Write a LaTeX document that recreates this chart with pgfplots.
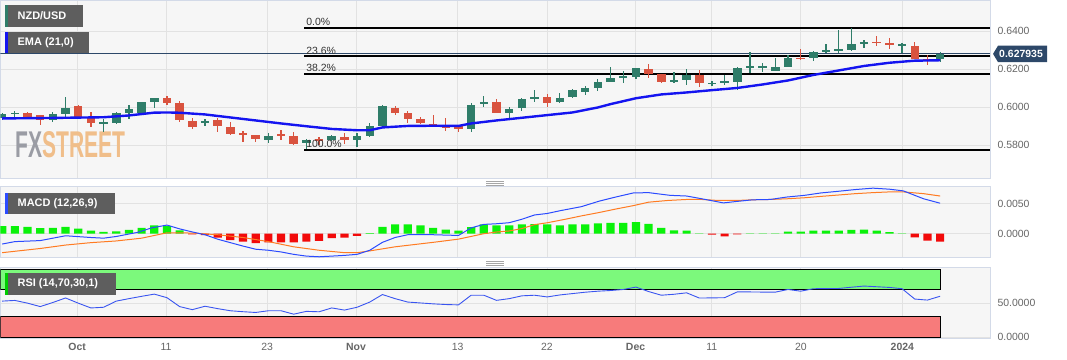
\documentclass[border=0pt]{standalone}
\usepackage{fontspec}
\setmainfont{Liberation Sans}
\usepackage{graphicx}
\usepackage{pgfplots}
\usepackage{pgfplotstable}
\pgfplotsset{compat=1.18}

\definecolor{cgreen}{HTML}{2F7D69}
\definecolor{cred}{HTML}{D9533F}
\definecolor{panelbg}{HTML}{F6F6F6}
\definecolor{gridc}{HTML}{E2E2E2}
\definecolor{borderc}{HTML}{D3DAE8}
\definecolor{emac}{HTML}{1414F0}
\definecolor{navy}{HTML}{2D4869}
\definecolor{boxc}{HTML}{5E5E5E}
\definecolor{labc}{HTML}{666666}
\definecolor{hgreen}{HTML}{0AF20A}
\definecolor{hred}{HTML}{F20A0A}
\definecolor{macdc}{HTML}{2B4BFF}
\definecolor{sigc}{HTML}{FF7B22}
\definecolor{rsic}{HTML}{3A55F0}
\definecolor{obgreen}{HTML}{7CF97C}
\definecolor{osred}{HTML}{F77B7B}
\definecolor{wmgray}{HTML}{9A9CA4}
\definecolor{wmorange}{HTML}{F0BE8A}
\definecolor{fibtxt}{HTML}{333333}

\pgfplotsset{
 panel/.style={
  scale only axis, width=990bp, xmin=-0.134, xmax=77.94,
  axis background/.style={fill=panelbg},
  axis line style={draw=borderc, line width=1bp},
  xmajorgrids, ymajorgrids,
  grid style={draw=gridc, line width=0.8bp},
  major tick length=0pt,
  scaled y ticks=false, scaled x ticks=false,
  xtick={5.91,12.93,20.9,27.92,35.93,42.98,49.97,55.99,63.01,71.02},
  xticklabel=\empty,
  yticklabel pos=right,
  yticklabel style={anchor=west, xshift=4bp, text=labc, font=\fontsize{10.5}{12}\selectfont},
 },
 candlewick/.style={draw=none, mark=none, forget plot, error bars/.cd, y dir=both, y explicit, error mark=none, error bar style={draw=#1, line width=1.2bp}},
 candlebody/.style={draw=none, mark=none, forget plot, error bars/.cd, y dir=both, y explicit, error mark=none, error bar style={draw=#1, line width=8.5bp}},
}

% green candles: index, open, high, low, close
\pgfplotstableread{
k o h l c
0 0.59422 0.59685 0.59316 0.59606
1 0.59653 0.59790 0.59490 0.59669
4 0.59290 0.59722 0.59195 0.59632
5 0.59632 0.60511 0.59353 0.59932
8 0.59159 0.59353 0.58701 0.59174
9 0.59174 0.59722 0.59106 0.59669
10 0.59701 0.60106 0.59353 0.59880
11 0.59701 0.60280 0.59669 0.60248
12 0.60248 0.60474 0.59932 0.60459
16 0.59211 0.59353 0.59001 0.59227
21 0.58264 0.58617 0.58090 0.58474
24 0.58090 0.58290 0.57780 0.58264
26 0.58264 0.58527 0.58211 0.58448
28 0.58264 0.58617 0.57911 0.58490
29 0.58448 0.59174 0.58406 0.59001
30 0.59001 0.60106 0.58964 0.60037
37 0.58843 0.60185 0.58659 0.60122
38 0.60143 0.60553 0.59985 0.60248
40 0.59690 0.60001 0.59358 0.59895
41 0.59932 0.60459 0.59806 0.60411
42 0.60416 0.60869 0.60280 0.60527
44 0.60237 0.60711 0.60195 0.60474
45 0.60501 0.60932 0.60459 0.60869
46 0.60764 0.61106 0.60632 0.61016
47 0.61016 0.61464 0.60827 0.61316
48 0.61332 0.62090 0.61290 0.61527
49 0.61569 0.61895 0.61248 0.61585
50 0.61595 0.62064 0.61464 0.62037
53 0.61301 0.61858 0.61248 0.61411
54 0.61422 0.61985 0.61159 0.61706
56 0.61237 0.61369 0.61106 0.61253
57 0.61306 0.61685 0.61132 0.61322
58 0.61332 0.62122 0.60895 0.62069
59 0.62111 0.62879 0.61774 0.62127
60 0.62111 0.62332 0.61858 0.62127
61 0.61911 0.62564 0.61895 0.62090
62 0.62122 0.62737 0.62090 0.62595
64 0.62564 0.62964 0.62422 0.62911
65 0.62948 0.63306 0.62827 0.62964
66 0.62985 0.64037 0.62827 0.63001
67 0.63001 0.64140 0.62937 0.63316
68 0.63353 0.63543 0.63132 0.63432
71 0.63248 0.63395 0.62827 0.63264
74 0.62500 0.62869 0.62369 0.627935
}\gtab

% red candles
\pgfplotstableread{
k o h l c
2 0.59669 0.59711 0.59369 0.59422
3 0.59553 0.59580 0.59053 0.59290
6 0.60053 0.60080 0.59448 0.59490
7 0.59406 0.59753 0.58964 0.59143
13 0.60459 0.60580 0.60106 0.60227
14 0.60195 0.60332 0.59227 0.59316
15 0.59280 0.59406 0.58827 0.58932
17 0.59316 0.59406 0.58701 0.59001
18 0.58964 0.59227 0.58527 0.58580
19 0.58590 0.58753 0.58175 0.58569
20 0.58527 0.58543 0.58175 0.58317
22 0.58538 0.58790 0.58264 0.58517
23 0.58474 0.58701 0.58001 0.58053
25 0.58317 0.58406 0.58001 0.58237
27 0.58438 0.58617 0.58053 0.58264
31 0.59964 0.60053 0.59580 0.59669
32 0.59669 0.59790 0.59143 0.59385
33 0.59369 0.59459 0.59080 0.59132
34 0.59106 0.59580 0.58975 0.59027
35 0.58975 0.59406 0.58753 0.58953
36 0.59001 0.59053 0.58701 0.58843
39 0.60248 0.60406 0.59669 0.59685
43 0.60511 0.60658 0.59985 0.60227
51 0.61985 0.62264 0.61511 0.61711
52 0.61711 0.61737 0.61264 0.61301
55 0.61685 0.61948 0.61053 0.61248
63 0.62574 0.63037 0.62474 0.62553
69 0.63411 0.63722 0.63237 0.63390
70 0.63316 0.63616 0.63037 0.63295
72 0.63227 0.63406 0.62511 0.62543
73 0.62521 0.62727 0.62211 0.62500
}\rtab

% EMA(21)
\pgfplotstableread{
k v
0 0.59396
4 0.59422
8 0.59459
10 0.59553
12 0.59701
13 0.59711
14 0.59696
16 0.59606
18 0.59448
20 0.59290
22 0.59132
24 0.58985
26 0.58843
28 0.58774
29 0.58774
30 0.58922
32 0.59001
34 0.59011
36 0.59001
37 0.59132
39 0.59290
42 0.59501
45 0.59711
47 0.59974
48 0.60150
50 0.60459
52 0.60659
54 0.60764
56 0.60885
58 0.61001
60 0.61185
62 0.61395
64 0.61685
66 0.61922
68 0.62158
70 0.62327
72 0.62437
74 0.62458
}\ematab

% MACD histogram
\pgfplotstableread{
k v
0 0.00125
1 0.00125
2 0.00114
3 0.00091
4 0.00097
5 0.00114
6 0.00086
7 0.00051
8 0.00029
9 0.00040
10 0.00063
11 0.00097
12 0.00137
13 0.00125
14 0.00057
29 0.00011
30 0.00114
31 0.00154
32 0.00154
33 0.00137
34 0.00097
35 0.00068
36 0.00051
37 0.00108
38 0.00154
39 0.00137
40 0.00137
41 0.00154
42 0.00160
43 0.00153
44 0.00136
45 0.00153
46 0.00153
47 0.00170
48 0.00181
49 0.00181
50 0.00193
51 0.00164
52 0.00096
53 0.00057
54 0.00051
55 0.00006
59 0.00006
60 0.00006
61 0.00006
62 0.00034
63 0.00034
64 0.00051
65 0.00051
66 0.00051
67 0.00062
68 0.00068
69 0.00051
70 0.00028
71 0.00006
}\hgtab

\pgfplotstableread{
k v
15 -0.00010
16 -0.00025
17 -0.00063
18 -0.00108
19 -0.00131
20 -0.00154
21 -0.00143
22 -0.00143
23 -0.00143
24 -0.00131
25 -0.00120
26 -0.00074
27 -0.00063
28 -0.00034
56 -0.00017
57 -0.00045
58 -0.00011
72 -0.00062
73 -0.00113
74 -0.00130
}\hrtab

% MACD line
\pgfplotstableread{
k v
0 -0.00171
1 -0.00131
3 -0.00114
5 -0.00034
7 -0.00063
8 -0.00074
9 -0.00046
10.7 0.00023
11.8 0.00097
13 0.00143
14 0.00080
15 0.00029
16 -0.00017
17 -0.00091
18 -0.00148
19 -0.00205
20 -0.00257
21 -0.00274
22 -0.00302
23 -0.00342
24 -0.00371
25 -0.00382
26 -0.00371
27 -0.00359
28 -0.00342
29 -0.00274
30 -0.00143
31 -0.00063
32 -0.00017
34 -0.00017
36 -0.00029
37 0.00097
38 0.00154
39 0.00165
40 0.00182
41 0.00239
42 0.00310
43 0.00335
44 0.00380
45.7 0.00448
47.1 0.00539
48.4 0.00607
49.8 0.00675
51 0.00680
52.7 0.00635
54 0.00624
55.2 0.00578
56.9 0.00510
57.9 0.00533
59.2 0.00561
60.6 0.00567
61.9 0.00607
63.3 0.00635
64.6 0.00675
66 0.00703
67.3 0.00731
68.7 0.00754
70 0.00737
71.1 0.00709
72.7 0.00578
74 0.00505
}\macdtab

% signal line
\pgfplotstableread{
k v
0 -0.00314
3 -0.00245
5 -0.00188
7 -0.00148
9 -0.00120
11 -0.00074
13 0.00015
15 0.00011
17 -0.00017
19 -0.00063
21 -0.00131
23 -0.00217
25 -0.00274
27 -0.00314
28 -0.00314
29 -0.00285
31 -0.00217
34 -0.00143
36 -0.00090
38 0.00000
39 0.00028
40 0.00045
41 0.00085
42 0.00150
43 0.00181
44.4 0.00238
45.7 0.00295
47.1 0.00351
48.4 0.00408
49.8 0.00465
51 0.00522
52.5 0.00550
54 0.00567
55.2 0.00567
56.5 0.00550
57.9 0.00550
59.2 0.00561
60.6 0.00567
61.9 0.00578
63.3 0.00595
64.6 0.00618
66 0.00641
67.3 0.00663
68.7 0.00680
70 0.00692
71.1 0.00692
72.7 0.00663
74 0.00624
}\sigtab

% RSI(14)
\pgfplotstableread{
k v
0 53
1 54
2 50
3 45
4 51
5 57.6
6 50
7 43
8 44
9 53
10 56.6
11 60
12 63.2
13 58
14 45
15 40.5
16 45.5
17 42
18 38.9
19 37.5
20 36.4
21 38.9
22 38.9
23 33.9
24 38
25 37.4
26 43
27 39.9
28 44
29 51.6
30 62.6
31 56.6
32 51.6
33 50.3
34 49
35 48
36 47.5
37 61.6
38 61.6
39 54.1
40 56.6
41 60.7
42 61.6
43 59.1
44 62
45 64
46 66
47 67.5
48 68.5
49 70
50 73.5
51 67
52 61.6
53 63
54 65.1
55 57.5
56 57.7
57 58
58 66.5
59 66.4
60 66.2
61 66.1
62 70
63 67.5
64 71.1
65 71.3
66 71.5
67 73.3
68 75
69 74
70 73
71 71.1
72 56
73 54.5
74 60.1
}\rsitab

\begin{document}
\begin{tikzpicture}
\fill[white] (0bp,0bp) rectangle (1067bp,-360bp);

% ---------------- main price panel ----------------
\begin{axis}[panel, at={(0bp,-1bp)}, anchor=north west, height=177.5bp,
  ymin=0.56238, ymax=0.65579,
  ytick={0.58,0.60,0.62,0.64},
  yticklabels={0.5800,0.6000,0.6200,0.6400}]
 \node[anchor=south west, inner sep=0pt] at (rel axis cs:0.0152,0.1155)
   {\resizebox{110bp}{26bp}{\bfseries\textcolor{wmgray}{FX}\textcolor{wmorange}{STREET}}};
 % Fibonacci levels
 \addplot[black, line width=2bp, forget plot] coordinates {(23.84,0.6417) (77.94,0.6417)};
 \addplot[black, line width=2bp, forget plot] coordinates {(23.84,0.62662) (77.94,0.62662)};
 \addplot[black, line width=2bp, forget plot] coordinates {(23.84,0.61729) (77.94,0.61729)};
 \addplot[black, line width=2bp, forget plot] coordinates {(23.84,0.5776) (77.94,0.5776)};
 % last price line
 \addplot[navy, line width=1bp, forget plot] coordinates {(-0.134,0.627935) (77.94,0.627935)};
 % candles
 \addplot[candlewick=cgreen] table[x=k, y expr={(\thisrow{h}+\thisrow{l})/2}, y error expr={(\thisrow{h}-\thisrow{l})/2}] {\gtab};
 \addplot[candlewick=cred] table[x=k, y expr={(\thisrow{h}+\thisrow{l})/2}, y error expr={(\thisrow{h}-\thisrow{l})/2}] {\rtab};
 \addplot[candlebody=cgreen] table[x=k, y expr={(\thisrow{o}+\thisrow{c})/2}, y error expr={max(abs(\thisrow{o}-\thisrow{c})/2,0.0004)}] {\gtab};
 \addplot[candlebody=cred] table[x=k, y expr={(\thisrow{o}+\thisrow{c})/2}, y error expr={max(abs(\thisrow{o}-\thisrow{c})/2,0.0004)}] {\rtab};
 % EMA
 \addplot[emac, line width=2.4bp] table[x=k, y=v] {\ematab};
 % fib labels
 \node[anchor=south west, inner sep=1bp, yshift=1bp, text=fibtxt, font=\fontsize{10.5}{12}\selectfont] at (axis cs:23.9,0.6417) {0.0\%};
 \node[anchor=south west, inner sep=1bp, yshift=1bp, text=fibtxt, font=\fontsize{10.5}{12}\selectfont] at (axis cs:23.9,0.62662) {23.6\%};
 \node[anchor=south west, inner sep=1bp, yshift=1bp, text=fibtxt, font=\fontsize{10.5}{12}\selectfont] at (axis cs:23.9,0.61729) {38.2\%};
 \node[anchor=south west, inner sep=1bp, yshift=1bp, text=fibtxt, font=\fontsize{10.5}{12}\selectfont] at (axis cs:23.9,0.5776) {100.0\%};
 \coordinate (cp) at (axis cs:77.94,0.627935);
\end{axis}

% last price tag
\fill[navy] ([xshift=3bp]cp) -- ([xshift=8bp,yshift=8.3bp]cp) -- ([xshift=57bp,yshift=8.3bp]cp) -- ([xshift=57bp,yshift=-8.3bp]cp) -- ([xshift=8bp,yshift=-8.3bp]cp) -- cycle;
\node[anchor=west, inner sep=0pt, text=white, font=\bfseries\fontsize{10.5}{12}\selectfont] at ([xshift=9bp]cp) {0.627935};

% ---------------- MACD panel ----------------
\begin{axis}[panel, at={(0bp,-186.8bp)}, anchor=north west, height=71.3bp,
  ymin=-0.00402, ymax=0.00778,
  ytick={0,0.005}, yticklabels={0.0000,0.0050}]
 \addplot[ybar, bar width=8.2bp, bar shift=0pt, fill=hgreen, draw=none, forget plot] table[x=k, y=v] {\hgtab};
 \addplot[ybar, bar width=8.2bp, bar shift=0pt, fill=hred, draw=none, forget plot] table[x=k, y=v] {\hrtab};
 \addplot[sigc, line width=1bp] table[x=k, y=v] {\sigtab};
 \addplot[macdc, line width=1bp] table[x=k, y=v] {\macdtab};
\end{axis}

% ---------------- RSI panel ----------------
\begin{axis}[panel, at={(0bp,-267.3bp)}, anchor=north west, height=70.9bp,
  ymin=-1.0, ymax=102.6,
  ytick={0,50}, yticklabels={0.0000,50.0000},
  xticklabels={\textbf{Oct},11,23,\textbf{Nov},13,22,\textbf{Dec},11,20,\textbf{2024}},
  xticklabel style={anchor=north, yshift=-2bp, text=labc, font=\fontsize{10.5}{12}\selectfont}]
 \addplot[fill=obgreen, draw=black, line width=0.8bp, forget plot] coordinates {(-0.134,70) (74,70) (74,100) (-0.134,100)} -- cycle;
 \addplot[fill=osred, draw=black, line width=0.8bp, forget plot] coordinates {(-0.134,0) (74,0) (74,30) (-0.134,30)} -- cycle;
 \addplot[rsic, line width=0.9bp] table[x=k, y=v] {\rsitab};
\end{axis}

% panel handles
\foreach \yy in {181.6,183.4,185.2,261.6,263.4,265.2}{
  \draw[gray!70, line width=0.7bp] (486bp,-\yy bp) -- (504bp,-\yy bp);
}

% indicator title boxes
\fill[boxc] (5bp,-5bp) rectangle (83bp,-27bp);
\fill[cgreen] (5bp,-5bp) rectangle (7.5bp,-27bp);
\node[anchor=west, inner sep=0pt, text=white, font=\bfseries\fontsize{11}{13}\selectfont] at (17bp,-16bp) {NZD/USD};
\fill[boxc] (5bp,-32bp) rectangle (89bp,-53bp);
\fill[emac] (5bp,-32bp) rectangle (7.5bp,-53bp);
\node[anchor=west, inner sep=0pt, text=white, font=\bfseries\fontsize{11}{13}\selectfont] at (17bp,-42.5bp) {EMA (21,0)};
\fill[boxc] (5bp,-192.7bp) rectangle (115bp,-214.4bp);
\fill[macdc] (5bp,-192.7bp) rectangle (7.5bp,-214.4bp);
\node[anchor=west, inner sep=0pt, text=white, font=\bfseries\fontsize{11}{13}\selectfont] at (17bp,-203.5bp) {MACD (12,26,9)};
\fill[boxc] (5bp,-273bp) rectangle (116bp,-295.4bp);
\fill[green!80!black] (5bp,-273bp) rectangle (7.5bp,-295.4bp);
\node[anchor=west, inner sep=0pt, text=white, font=\bfseries\fontsize{11}{13}\selectfont] at (17bp,-284.2bp) {RSI (14,70,30,1)};
\path[use as bounding box] (0bp,0bp) rectangle (1067bp,-360bp);
\end{tikzpicture}
\end{document}
